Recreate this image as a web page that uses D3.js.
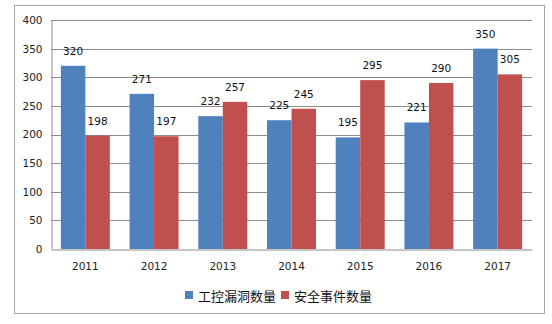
<!DOCTYPE html>
<html><head><meta charset="utf-8">
<script src="https://cdn.jsdelivr.net/npm/d3@7"></script>
<style>body{margin:0;background:#fff}svg{display:block}</style>
</head><body>
<script>
const years = ["2011","2012","2013","2014","2015","2016","2017"];
const vulnCounts = [320,271,232,225,195,221,350];
const incidentCounts = [198,197,257,245,295,290,305];
const seriesNames = ["工控漏洞数量","安全事件数量"];
const seriesColors = ["#4F81BD","#C0504D"];
const yTicks = [0,50,100,150,200,250,300,350,400];

const W=552,H=324;
const svg=d3.select("body").append("svg").attr("width",W).attr("height",H);
svg.append("rect").attr("x",14.5).attr("y",5.5).attr("width",530).attr("height",308)
  .attr("fill","#fff").attr("stroke","#a6a6a6").attr("stroke-width",1);

const L=51,R=532,T=20,B=249;
const y=d3.scaleLinear().domain([0,400]).range([B,T]);
const x0=d3.scaleBand().domain(years).range([L,R]).paddingInner(0.287).paddingOuter(0.1435);
const x1=d3.scaleBand().domain([0,1]).range([0,x0.bandwidth()]);

const font="'DejaVu Sans', sans-serif";
// gridlines
svg.append("g").selectAll("line").data(yTicks.filter(d=>d>0)).join("line")
  .attr("x1",L).attr("x2",R).attr("y1",d=>Math.round(y(d))+0.5).attr("y2",d=>Math.round(y(d))+0.5)
  .attr("stroke","#8c8c8c").attr("stroke-width",1);

const yAxis=svg.append("g").attr("transform",`translate(${L+0.5},0)`)
  .call(d3.axisLeft(y).tickValues(yTicks).tickSize(0).tickPadding(9));
yAxis.select(".domain").attr("stroke","#8c8c8c");
yAxis.selectAll("text").attr("font-family",font).attr("font-size",10.5).attr("fill","#222");

const series=[vulnCounts,incidentCounts];
const g=svg.append("g");
years.forEach((yr,i)=>{
  series.forEach((vals,s)=>{
    const bx=x0(yr)+x1(s);
    g.append("rect").attr("x",bx).attr("y",y(vals[i])).attr("width",x1.bandwidth())
      .attr("height",y(0)-y(vals[i])).attr("fill",seriesColors[s]);
    g.append("text").attr("x",bx+x1.bandwidth()/2).attr("y",y(vals[i])-11)
      .attr("text-anchor","middle").attr("font-family",font).attr("font-size",10.5)
      .attr("fill","#111").text(vals[i]);
  });
});

const xAxis=svg.append("g").attr("transform",`translate(0,${B+0.5})`)
  .call(d3.axisBottom(x0).tickSize(0).tickPadding(13).tickSizeOuter(0));
xAxis.select(".domain").attr("stroke","#8c8c8c");
xAxis.selectAll("text").attr("font-family",font).attr("font-size",10.5).attr("fill","#222");

// legend
const lg=svg.append("g");
const legX=[185,281];
seriesNames.forEach((n,s)=>{
  lg.append("rect").attr("x",legX[s]).attr("y",291).attr("width",8).attr("height",8).attr("fill",seriesColors[s]);
  lg.append("text").attr("x",legX[s]+13).attr("y",295).attr("dominant-baseline","central")
    .attr("font-family","'Noto Sans CJK SC', sans-serif").attr("font-size",13).attr("fill","#111").text(n);
});
</script>
</body></html>
